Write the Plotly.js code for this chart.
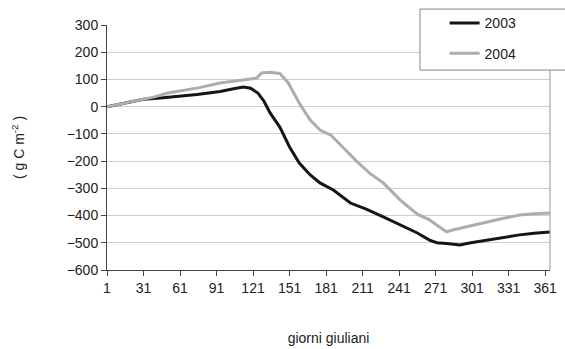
<!DOCTYPE html>
<html>
<head>
<meta charset="utf-8">
<script src="https://cdn.plot.ly/plotly-3.0.1.min.js"></script>
<style>html,body{margin:0;padding:0;background:#fff;}#chart{width:565px;height:349px;}</style>
</head>
<body>
<div id="chart"></div>
<script>
// Data
const days2003 = [1, 15, 31, 45, 51, 60, 75, 94, 105, 113, 119, 125, 130, 135, 143, 151, 159, 168, 176, 187, 201, 214, 228, 242, 256, 266, 272, 280, 291, 300, 313, 325, 340, 352, 365];
const vals2003 = [0, 12, 27, 32, 34, 38, 45, 56, 66, 72, 68, 50, 20, -23, -75, -148, -207, -251, -280, -306, -354, -376, -405, -435, -464, -490, -500, -503, -508, -500, -490, -483, -471, -465, -460];
const days2004 = [1, 15, 31, 40, 51, 60, 77, 94, 110, 124, 128, 135, 143, 150, 159, 168, 176, 185, 195, 206, 217, 228, 242, 256, 266, 280, 285, 300, 313, 325, 340, 352, 365];
const vals2004 = [0, 12, 28, 36, 50, 56, 70, 87, 98, 105, 124, 126, 122, 87, 13, -49, -86, -105, -150, -200, -245, -280, -343, -395, -416, -460, -453, -437, -424, -412, -398, -393, -391];
const seriesNames = ["2003", "2004"];
const xTickVals = [1, 31, 61, 91, 121, 151, 181, 211, 241, 271, 301, 331, 361];
const yTickVals = [-600, -500, -400, -300, -200, -100, 0, 100, 200, 300];

const FONT = "Liberation Sans, Arial, sans-serif";
const traces = [
  {x: days2003, y: vals2003, name: seriesNames[0], mode: "lines", legendgroup: "a",
   line: {color: "#151515", width: 3}},
  {x: days2004, y: vals2004, name: seriesNames[1], mode: "lines", legendgroup: "b",
   line: {color: "#adadad", width: 3}}
];
const layout = {
  width: 565, height: 349,
  margin: {l: 107, r: 15, t: 25, b: 79, autoexpand: false},
  paper_bgcolor: "#fff", plot_bgcolor: "#fff",
  font: {family: FONT, size: 14, color: "#222"},
  showlegend: true,
  legend: {x: 0.762, xanchor: "left", y: 1.072, yanchor: "top",
           bgcolor: "rgba(0,0,0,0)", borderwidth: 0,
           traceorder: "grouped", tracegroupgap: 9,
           font: {family: FONT, size: 14, color: "#222"}},
  xaxis: {range: [1, 365], tickvals: xTickVals, ticktext: xTickVals.map(String),
          ticks: "outside", ticklen: 5, tickcolor: "#444", showgrid: false,
          showline: true, linecolor: "#444", linewidth: 1, zeroline: false,
          title: {text: "giorni giuliani", standoff: 38, font: {family: FONT, size: 14, color: "#222"}}},
  yaxis: {range: [-600, 300], tickvals: yTickVals, ticks: "outside", ticklen: 5, tickcolor: "#444",
          showgrid: true, gridcolor: "#cfcfcf", gridwidth: 1,
          showline: true, linecolor: "#444", linewidth: 1, zeroline: false,
          title: {text: "( g C m<sup>-2</sup> )", standoff: 38, font: {family: FONT, size: 14, color: "#222"}}},
  shapes: [
    {type: "line", xref: "paper", yref: "paper", x0: 1, x1: 1, y0: 0, y1: 1,
     line: {color: "#999", width: 1}},
    {type: "rect", xref: "paper", yref: "paper", x0: 0.7065, x1: 1.05, y0: 0.816, y1: 1.065,
     fillcolor: "#fff", line: {color: "#888", width: 1}, layer: "above"}
  ]
};
Plotly.newPlot("chart", traces, layout, {displayModeBar: false, staticPlot: true});
</script>
</body>
</html>
